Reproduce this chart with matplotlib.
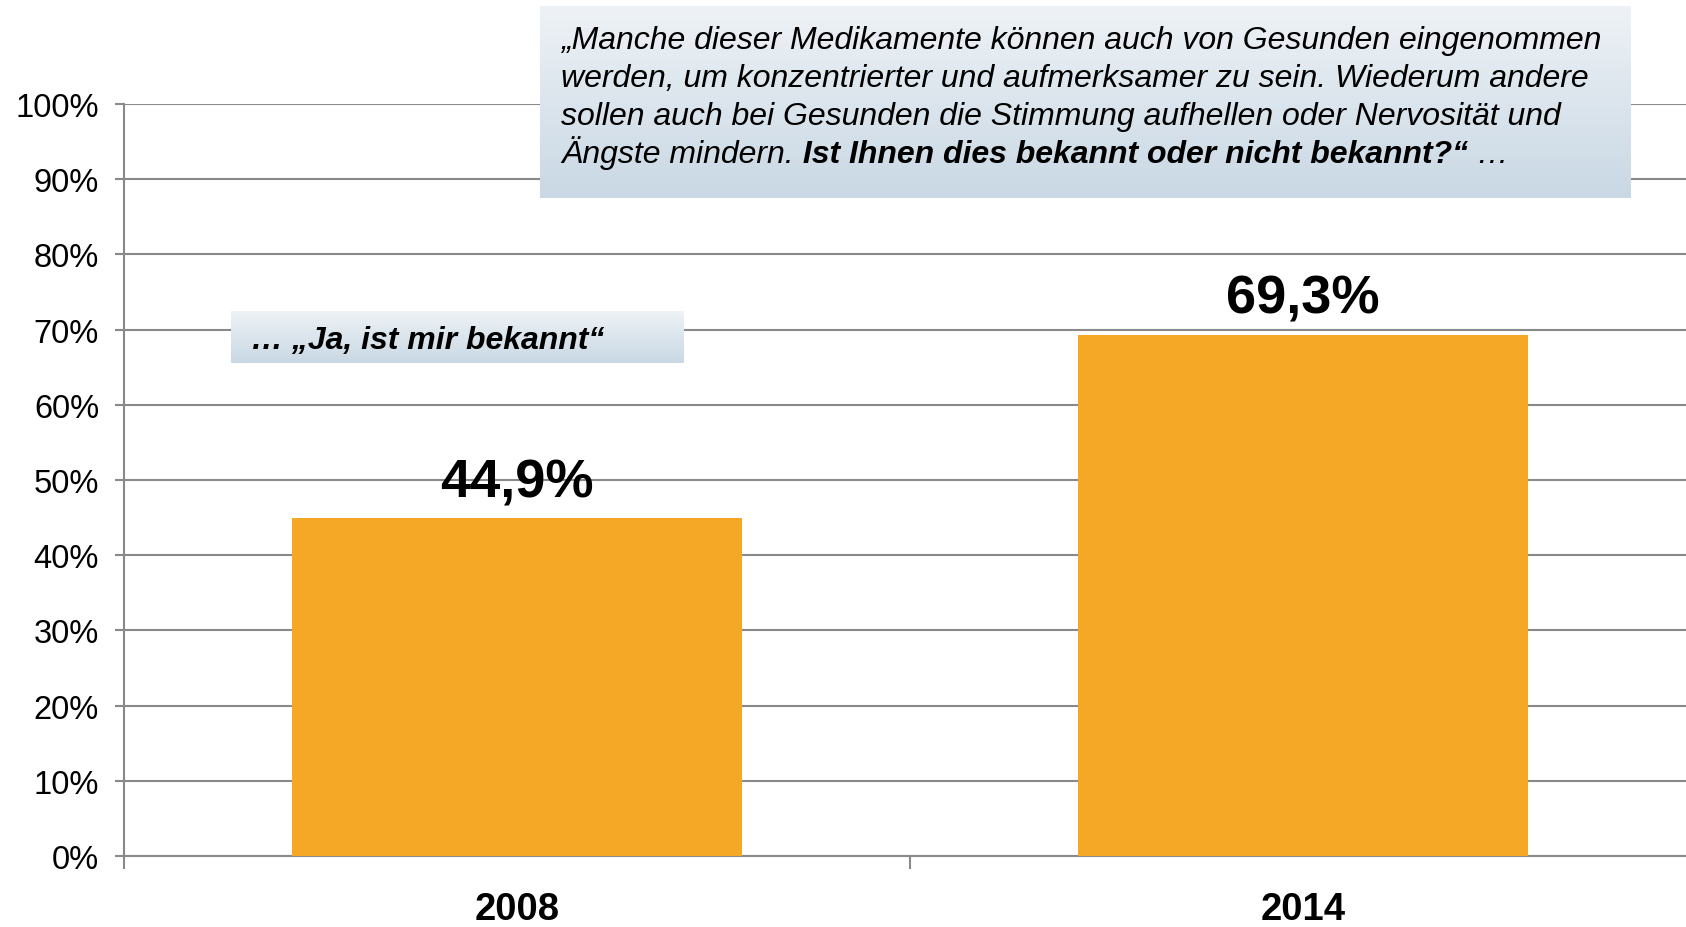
import matplotlib
matplotlib.use("Agg")
import matplotlib.pyplot as plt
import numpy as np
from matplotlib.colors import LinearSegmentedColormap

plt.rcParams['font.family'] = ['Liberation Sans', 'DejaVu Sans']

years = ["2008", "2014"]
values = [44.9, 69.3]
value_labels = ["44,9%", "69,3%"]
ytick_vals = list(range(0, 101, 10))
ytick_labels = [f"{v}%" for v in ytick_vals]
question_lines = [
    "\u201eManche dieser Medikamente k\u00f6nnen auch von Gesunden eingenommen",
    "werden, um konzentrierter und aufmerksamer zu sein. Wiederum andere",
    "sollen auch bei Gesunden die Stimmung aufhellen oder Nervosit\u00e4t und",
]
last_plain = "\u00c4ngste mindern."
last_bold = " Ist Ihnen dies bekannt oder nicht bekannt?\u201c"
last_tail = " \u2026"
answer_label = "\u2026 \u201eJa, ist mir bekannt\u201c"

W, H = 1686, 928
fig = plt.figure(figsize=(W / 100, H / 100), dpi=100)

def fx(px):
    return px / W

def fy(py):
    return 1 - py / H

left, right, top, bottom = 124, 1696, 105, 857
ax = fig.add_axes([fx(left), fy(bottom), fx(right - left), (bottom - top) / H])

grid_c = "#898989"
bar_c = "#F5A825"
x = np.arange(len(years))
ax.bar(x, values, width=0.572, color=bar_c, zorder=3)
ax.set_xlim(-0.5, 1.5)
ax.set_ylim(0, 100)
ax.set_yticks(ytick_vals)
ax.set_yticklabels(ytick_labels, fontsize=23.5)
ax.yaxis.grid(True, color=grid_c, linewidth=1.5, zorder=0)
ax.set_axisbelow(True)
ax.set_xticks([-0.5, 0.5, 1.5])
ax.set_xticklabels([])
ax.set_xticks(x, minor=True)
ax.set_xticklabels(years, minor=True, fontsize=27.5, fontweight='bold')
ax.tick_params(axis='x', which='minor', length=0, pad=25)
ax.tick_params(axis='x', which='major', length=9, width=1.5, color=grid_c, direction='out')
ax.tick_params(axis='y', length=6.5, width=1.5, color=grid_c, pad=11.5)
for s in ['top', 'right']:
    ax.spines[s].set_visible(False)
for s in ['left', 'bottom']:
    ax.spines[s].set_color(grid_c)
    ax.spines[s].set_linewidth(1.5)

for xi, v, lab in zip(x, values, value_labels):
    ax.annotate(lab, (xi, v), xytext=(0, 16), textcoords='offset points',
                ha='center', va='baseline', fontsize=39, fontweight='bold')

cmap = LinearSegmentedColormap.from_list("g", ["#EEF2F6", "#C9D8E4"])
grad = np.linspace(0, 1, 256).reshape(-1, 1)

def gbox(x0, y0, x1, y1):
    bax = fig.add_axes([fx(x0), fy(y1), fx(x1 - x0), (y1 - y0) / H], zorder=5)
    bax.imshow(grad, aspect='auto', cmap=cmap, extent=[0, 1, 0, 1], origin='upper')
    bax.set_xlim(0, 1)
    bax.set_ylim(0, 1)
    bax.axis('off')
    return bax

fs_q = 23
# question box
qb = gbox(540, 7, 1631, 199)
line_h = 38
base0 = 49
for i, ln in enumerate(question_lines):
    fig.text(fx(561), fy(base0 + i * line_h), ln, fontsize=fs_q, style='italic',
             va='baseline', ha='left', zorder=10)
t1 = fig.text(fx(561), fy(base0 + 3 * line_h), last_plain, fontsize=fs_q, style='italic',
              va='baseline', ha='left', zorder=10)
t2 = fig.text(0, 0, last_bold, fontsize=fs_q, style='italic', fontweight='bold',
              zorder=10)
t3 = fig.text(0, 0, last_tail, fontsize=fs_q, style='italic', zorder=10)
fig.canvas.draw()
r = fig.canvas.get_renderer()
bb1 = t1.get_window_extent(r)
t2.set_position((bb1.x1 / W, fy(base0 + 3 * line_h)))
t2.set_va('baseline')
fig.canvas.draw()
bb2 = t2.get_window_extent(r)
t3.set_position((bb2.x1 / W, fy(base0 + 3 * line_h)))
t3.set_va('baseline')

# answer box
ab = gbox(231, 312, 684, 364)
fig.text(fx(251), fy(349), answer_label, fontsize=23, style='italic', fontweight='bold',
         va='baseline', ha='left', zorder=10)

fig.savefig("out.png", dpi=100)
